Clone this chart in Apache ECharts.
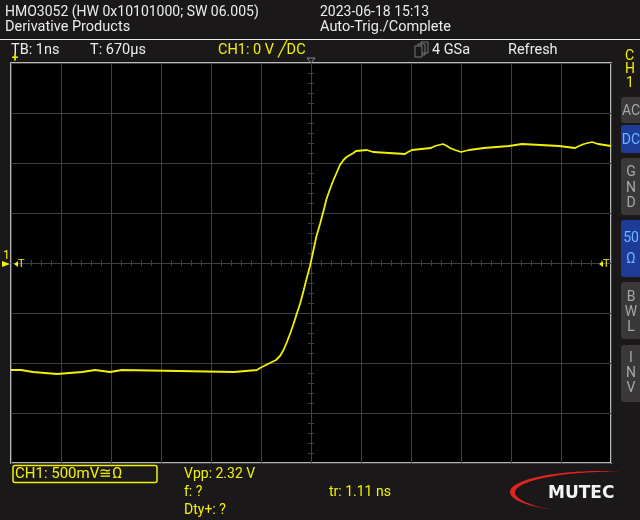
<!DOCTYPE html>
<html><head><meta charset="utf-8">
<script src="https://cdn.jsdelivr.net/npm/echarts@6/dist/echarts.min.js"></script>
<style>html,body{margin:0;padding:0;background:#1b1819;}#c{width:640px;height:520px;}</style>
</head><body><div id="c"></div>
<script>
// Trace: time in ns (1 ns/div), voltage in V (500 mV/div)
const times = [-6.00,-5.80,-5.78,-5.56,-5.54,-5.08,-5.06,-4.58,-4.56,-4.32,-4.30,-4.02,-4.00,-3.78,-3.76,-1.54,-1.52,-1.08,
  -1.02,-0.94,-0.86,-0.78,-0.70,-0.62,-0.55,-0.49,-0.42,-0.35,-0.28,-0.22,-0.15,-0.09,-0.02,
  0.05,0.11,0.18,0.25,0.31,0.38,0.45,0.51,0.58,0.65,0.71,0.78,0.85,0.90,
  0.92,1.12,1.14,1.24,1.26,1.88,1.90,1.94,1.96,2.02,2.04,2.40,2.42,2.48,2.50,2.64,2.66,2.72,2.74,2.78,2.80,2.88,2.90,3.00,
  3.02,3.16,3.18,3.46,3.48,3.96,3.98,4.22,4.24,4.96,4.98,5.28,5.30,5.36,5.38,5.46,5.48,5.62,5.64,5.74,5.76,6.00];
const volts = [-1.07,-1.07,-1.09,-1.09,-1.11,-1.11,-1.09,-1.09,-1.07,-1.07,-1.09,-1.09,-1.07,-1.07,-1.09,-1.09,-1.07,-1.07,
  -1.05,-1.03,-1.01,-0.99,-0.97,-0.93,-0.87,-0.80,-0.71,-0.61,-0.50,-0.41,-0.28,-0.16,-0.03,
  0.13,0.27,0.39,0.52,0.64,0.74,0.83,0.90,0.98,1.03,1.06,1.08,1.10,1.12,
  1.13,1.13,1.11,1.11,1.09,1.09,1.11,1.11,1.13,1.13,1.15,1.15,1.17,1.17,1.19,1.19,1.17,1.17,1.15,1.15,1.13,1.13,1.11,1.11,
  1.13,1.13,1.15,1.15,1.17,1.17,1.19,1.19,1.17,1.17,1.15,1.15,1.17,1.17,1.19,1.19,1.21,1.21,1.19,1.19,1.17,1.17];
const headerLeft = ['HMO3052 (HW 0x10101000; SW 06.005)', 'Derivative Products'];
const headerRight = ['2023-06-18 15:13', 'Auto-Trig./Complete'];
const statusItems = ['TB: 1ns', 'T: 670µs', 'CH1: 0 V ╱DC', '4 GSa', 'Refresh'];
const measures = ['Vpp: 2.32 V', 'f: ?', 'Dty+: ?', 'tr: 1.11 ns'];
const channelLabel = 'CH1: 500mV≅Ω';

const gridColor = '#404040';
const yellow = '#f2f200';
const white = '#ececec';
const FONT = 'Roboto, "Liberation Sans", sans-serif';

const chart = echarts.init(document.getElementById('c'), null, {renderer:'canvas'});
function axisX(pos, split){
  return {type:'value', min:-6, max:6, interval:1, position:pos,
    axisLine:{show:true, onZero:true, lineStyle:{color:gridColor, width:1}},
    axisTick:{show:false}, axisLabel:{show:false},
    minorTick:{show:true, splitNumber:5, length:3, lineStyle:{color:gridColor}},
    splitLine:{show:split, lineStyle:{color:gridColor, width:1}}, minorSplitLine:{show:false}};
}
function axisY(pos, split){
  return {type:'value', min:-2, max:2, interval:0.5, position:pos,
    axisLine:{show:true, onZero:true, lineStyle:{color:gridColor, width:1}},
    axisTick:{show:false}, axisLabel:{show:false},
    minorTick:{show:true, splitNumber:5, length:3, lineStyle:{color:gridColor}},
    splitLine:{show:split, lineStyle:{color:gridColor, width:1}}, minorSplitLine:{show:false}};
}
function txt(x, y, text, fill, size, weight){
  return {type:'text', x:x, y:y, z:10, silent:true,
    style:{text:text, fill:fill, font: (weight||'') + ' ' + size + 'px ' + FONT, verticalAlign:'middle', align:'left'}};
}
function btn(y, h, blue, lines, ys){
  const els = [{type:'rect', shape:{x:621, y:y, width:24, height:h, r:3}, style:{fill: blue ? '#1d3c98' : '#3a3839'}}];
  lines.forEach((t,i)=>els.push({type:'text', x:631, y:ys[i], style:{text:t, fill: blue ? '#6fb4ff' : '#a8a8a8', font:'14px ' + FONT, align:'center', verticalAlign:'middle'}}));
  return els;
}
// crescent swoosh of the logo (decoration)
function crescent(){
  const cx = 600, cy = 492, rx = 90, ry = 21, a0 = 77, a1 = 236;
  const outer = [], inner = [];
  for (let a = a0; a <= a1; a += 3) {
    const r = a*Math.PI/180;
    const t = 5.5*Math.pow(Math.sin(Math.PI*(a-a0)/(a1-a0)), 0.8);
    outer.push([cx + rx*Math.cos(r), cy - ry*Math.sin(r)]);
    inner.push([cx + (rx - t)*Math.cos(r), cy - (ry - t*0.45)*Math.sin(r)]);
  }
  return outer.concat(inner.reverse());
}
const graphics = [
  {type:'line', shape:{x1:0, y1:39.5, x2:640, y2:39.5}, style:{stroke:white, lineWidth:1}},
  txt(5, 12, headerLeft[0], white, 14),
  txt(5, 27, headerLeft[1], white, 14.5),
  txt(320, 12, headerRight[0], white, 14),
  txt(320, 27, headerRight[1], white, 14.5),
  txt(11, 50, statusItems[0], white, 14.5),
  txt(90, 50, statusItems[1], white, 14.5),
  txt(218, 50, statusItems[2], yellow, 14.5),
  {type:'rect', shape:{x:418, y:44, width:7, height:11}, style:{fill:'none', stroke:'#777', lineWidth:1}},
  {type:'rect', shape:{x:421, y:42, width:7, height:11}, style:{fill:'none', stroke:'#777', lineWidth:1}},
  {type:'rect', shape:{x:415, y:46, width:7, height:11}, style:{fill:'#1b1819', stroke:'#777', lineWidth:1}},
  txt(432, 50, statusItems[3], white, 14.5),
  txt(508, 50, statusItems[4], white, 14.5),
  {type:'text', x:15, y:59, z:10, style:{text:'+', fill:yellow, font:'bold 12px ' + FONT, verticalAlign:'middle', align:'center'}},
  {type:'polygon', shape:{points:[[307,58],[315,58],[311,63]]}, style:{fill:'none', stroke:'#888', lineWidth:1}},
  txt(3, 256, '1', yellow, 12),
  {type:'polygon', shape:{points:[[2,261],[10,264],[2,267]]}, style:{fill:yellow}},
  {type:'polygon', shape:{points:[[14,264],[18,261],[18,267]]}, z:10, style:{fill:yellow}},
  txt(18, 264, 'T', yellow, 11),
  {type:'polygon', shape:{points:[[599,264],[603,261],[603,267]]}, z:10, style:{fill:yellow}},
  txt(603, 264, 'T', yellow, 11),
  txt(625, 56, 'C', yellow, 14),
  txt(625, 69, 'H', yellow, 14),
  txt(626, 83, '1', yellow, 14),
  ...btn(97, 26, false, ['AC'], [111]),
  ...btn(125, 28, true, ['DC'], [140]),
  ...btn(158, 57, false, ['G','N','D'], [172,188,203]),
  ...btn(220, 57, true, ['50','Ω'], [238,259]),
  ...btn(282, 57, false, ['B','W','L'], [297,312,327]),
  ...btn(345, 57, false, ['I','N','V'], [358,373,388]),
  {type:'rect', shape:{x:13, y:465.5, width:144, height:17, r:2}, style:{fill:'none', stroke:yellow, lineWidth:1.5}},
  txt(15, 474, channelLabel, yellow, 15),
  txt(184, 474, measures[0], yellow, 14),
  txt(184, 492, measures[1], yellow, 14),
  txt(184, 510, measures[2], yellow, 14),
  txt(329, 492, measures[3], yellow, 14),
  {type:'polygon', shape:{points:crescent()}, style:{fill:'#e0241f'}},
  {type:'text', x:548, y:494, style:{text:'MUTEC', fill:'#f4f4f4', font:'bold 17px "DejaVu Sans", sans-serif', verticalAlign:'middle', align:'left'}}
];
const data = times.map((t,i)=>[t, volts[i]]);
chart.setOption({
  backgroundColor:'#1b1819',
  animation:false,
  grid:{left:11, top:63, width:600, height:400, show:true, backgroundColor:'#000', borderColor:'#f0f0f0', borderWidth:1.5},
  xAxis:[axisX('bottom', true), axisX('top', false)],
  yAxis:[axisY('left', true), axisY('right', false)],
  series:[{type:'line', data:data, xAxisIndex:0, yAxisIndex:0, showSymbol:false, symbol:'none',
    lineStyle:{color:yellow, width:1.8}, z:5}],
  graphic: graphics
});
</script></body></html>
